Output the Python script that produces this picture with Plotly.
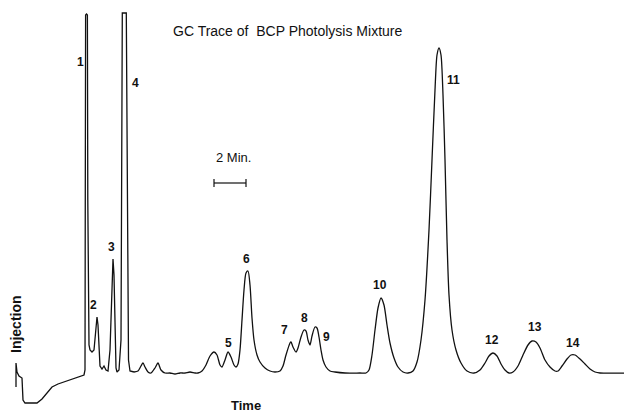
import plotly.graph_objects as go

# GC trace (time in chart mm, response in mm above baseline)
trace_time = [16, 16, 17, 19, 22, 23, 25, 37, 42, 47, 52, 58, 66, 75, 84, 85,
              85.3, 85.6, 86.5, 87.4, 87.8, 88.3, 89, 90, 92, 94, 96, 97, 98, 99, 100, 102, 104, 106, 108,
              110, 112, 113, 114, 115, 116, 117, 119, 121, 121.8, 122.3, 126.3, 126.8, 127.6, 128.5, 130,
              134, 138, 141, 143, 145, 148, 151, 155, 158, 161, 165, 170, 175, 180, 185, 190,
              195, 198, 202, 206, 210, 214, 217, 220, 222, 225, 228, 231, 234, 236, 238, 240,
              242, 244, 246, 248, 250, 252, 254, 257, 260, 265, 270, 275, 280, 283, 286, 290,
              291, 293, 296, 298, 301, 304, 306, 308, 310, 312, 315, 317, 319, 321, 323, 326,
              330, 335, 345, 360, 366, 369, 372, 375, 378, 381, 384, 387, 390, 394, 398, 403,
              408, 413, 417, 421, 425, 429, 432, 435, 437, 439, 441, 443, 445, 447, 449, 452,
              456, 461, 467, 474, 480, 485, 489, 493, 497, 501, 505, 509, 513, 518, 523, 528,
              532, 536, 540, 545, 550, 555, 558, 562, 567, 571, 575, 580, 585, 590, 595, 600, 632]
trace_pix = [387, 363, 372, 376, 378, 400, 403, 403, 399, 393, 387, 384, 381, 378, 375, 370,
             200, 15, 14, 15, 200, 320, 345, 350, 352, 350, 325, 317, 325, 355, 366, 369, 366, 370, 371,
             350, 280, 259, 275, 330, 368, 372, 370, 340, 100, 13, 13, 100, 300, 360, 371,
             372, 371, 366, 363, 367, 372, 373, 368, 363, 370, 373, 373, 374, 373, 373, 372,
             373, 373, 371, 365, 356, 352, 355, 365, 367, 360, 352, 357, 365, 367, 364, 350,
             320, 290, 273, 271, 285, 318, 340, 355, 362, 368, 371, 372, 371, 366, 355, 343,
             342, 347, 352, 348, 337, 330, 331, 340, 345, 336, 327, 328, 337, 350, 360, 367,
             371, 372, 373, 373, 373, 370, 355, 330, 308, 298, 305, 325, 343, 358, 367, 372,
             373, 371, 362, 340, 300, 230, 160, 90, 55, 48, 55, 95, 160, 240, 295, 330,
             350, 363, 371, 373, 370, 363, 356, 353, 356, 364, 370, 373, 372, 366, 355, 345,
             341, 342, 348, 360, 367, 371, 371, 366, 359, 355, 355, 359, 364, 369, 372, 373, 373]
BASE = 372
trace_resp = [BASE - p for p in trace_pix]

# Peak labels
peak_labels = ["1", "2", "3", "4", "5", "6", "7", "8", "9", "10", "11", "12", "13", "14"]
label_time = [80, 93, 111, 135, 228, 246, 284, 304, 326, 380, 453, 492, 535, 573]
label_pix = [62, 305, 247, 83, 343, 259, 330, 318, 337, 285, 80, 340, 327, 343]
label_resp = [BASE - p for p in label_pix]

# Scale bar (2 min)
bar_start, bar_end, bar_level = 214, 246, BASE - 183

FONT = "Liberation Sans, Arial, Helvetica, sans-serif"
INK = "#111111"

# split: sharp early peaks drawn straight, later peaks smoothed
split = trace_time.index(134)

fig = go.Figure()
fig.add_trace(go.Scatter(x=trace_time[:split + 1], y=trace_resp[:split + 1], mode="lines",
                         line=dict(color=INK, width=1.3), hoverinfo="skip", showlegend=False))
fig.add_trace(go.Scatter(x=trace_time[split:], y=trace_resp[split:], mode="lines",
                         line=dict(color=INK, width=1.3, shape="spline", smoothing=0.7),
                         hoverinfo="skip", showlegend=False))

for lab, t, r in zip(peak_labels, label_time, label_resp):
    fig.add_annotation(x=t, y=r, text="<b>" + lab + "</b>", showarrow=False,
                       font=dict(family=FONT, size=12, color=INK))

fig.add_annotation(x=16, y=BASE - 324, text="<b>Injection</b>", textangle=-90, showarrow=False,
                   font=dict(family=FONT, size=14, color=INK))
fig.add_annotation(x=246, y=BASE - 405, text="<b>Time</b>", showarrow=False,
                   font=dict(family=FONT, size=13, color=INK))
fig.add_annotation(x=287, y=BASE - 31, text="GC Trace of  BCP Photolysis Mixture", showarrow=False,
                   font=dict(family=FONT, size=14, color=INK))
fig.add_annotation(x=233, y=BASE - 157, text="2 Min.", showarrow=False,
                   font=dict(family=FONT, size=13, color=INK))

fig.add_shape(type="line", x0=bar_start, x1=bar_end, y0=bar_level, y1=bar_level,
              line=dict(color=INK, width=1.2))
for bx in (bar_start, bar_end):
    fig.add_shape(type="line", x0=bx, x1=bx, y0=bar_level - 4, y1=bar_level + 4,
                  line=dict(color=INK, width=1.2))

# the page adds an 8 px body margin, so the axis ranges are offset by 8 units
OFF = 8
fig.update_layout(width=632, height=418, margin=dict(l=0, r=0, t=0, b=0),
                  paper_bgcolor="white", plot_bgcolor="white",
                  xaxis=dict(range=[OFF, 632 + OFF], visible=False, fixedrange=True),
                  yaxis=dict(range=[BASE - 418 - OFF, BASE - OFF], visible=False, fixedrange=True))

fig.write_html("out.html")
